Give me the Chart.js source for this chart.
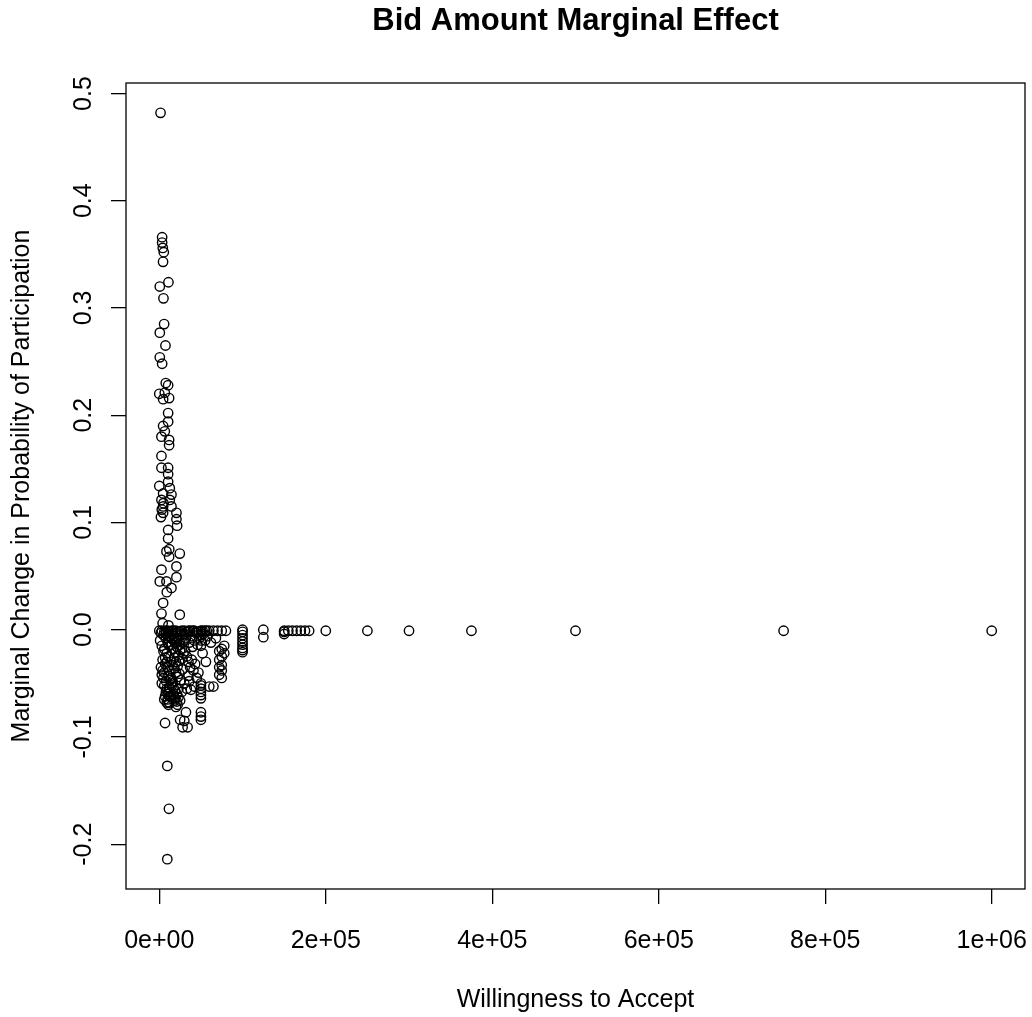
<!DOCTYPE html>
<html><head><meta charset="utf-8">
<script src="https://cdn.jsdelivr.net/npm/chart.js@4.4.1/dist/chart.umd.min.js"></script>
<style>html,body{margin:0;padding:0;background:#fff;}canvas{display:block;}</style>
</head><body>
<canvas id="c" width="1032" height="1017"></canvas>
<script>
const chartTitle = "Bid Amount Marginal Effect";
const xTitle = "Willingness to Accept";
const yTitle = "Marginal Change in Probability of Participation";
const xTicks = [0, 200000, 400000, 600000, 800000, 1000000];
const yTicks = [-0.2, -0.1, 0.0, 0.1, 0.2, 0.3, 0.4, 0.5];

// positive marginal effects
const posWta = [1500,3400,3400,4200,5400,4500,11000,600,5000,5800,600,7400,600,3400,7800,10600,0,6600,4600,11800,
  10600,10600,4600,6600,2600,11800,11800,2600,2600,10600,10600,10600,0,12600,4600,14600,2600,12600,4600,14600,
  4600,20600,20600,21400,10600,10600,8600,24600,11800,20600,2600,600,8600,14600,20600,4600,2600,24600,
  3000,5000,2000,12000,9000,4000,11000];
const posMfx = [0.482,0.366,0.361,0.356,0.352,0.343,0.324,0.320,0.309,0.285,0.277,0.265,0.254,0.248,0.230,0.228,0.220,0.221,0.215,0.216,
  0.202,0.194,0.190,0.185,0.180,0.177,0.172,0.162,0.151,0.151,0.145,0.138,0.134,0.132,0.127,0.126,0.121,0.121,0.115,0.115,
  0.109,0.109,0.103,0.097,0.093,0.085,0.073,0.071,0.068,0.059,0.056,0.045,0.045,0.039,0.049,0.025,0.015,0.014,
  0.112,0.118,0.105,0.075,0.035,0.006,0.004];

// effects near zero
const zeroWta = [0,3000,6000,10000,15000,20000,25000,30000,35000,40000,45000,50000,55000,60000,65000,70000,75000,80000,
  125000,125000,150000,150000,150000,155000,160000,165000,170000,175000,180000,200000,250000,300000,375000,500000,750000,1000000,
  8000,12000,17000,22000,27000,32000,37000,42000,47000,52000,57000];
const zeroMfx = [-0.001,-0.001,-0.002,-0.001,-0.001,-0.001,-0.002,-0.001,-0.001,-0.001,-0.002,-0.001,-0.001,-0.001,-0.001,-0.001,-0.001,-0.001,
  0.000,-0.007,-0.001,-0.002,-0.004,-0.001,-0.001,-0.001,-0.001,-0.001,-0.001,-0.001,-0.001,-0.001,-0.001,-0.001,-0.001,-0.001,
  -0.001,-0.002,-0.001,-0.002,-0.001,-0.002,-0.001,-0.001,-0.002,-0.001,-0.001];

// negative marginal effects
const negWta = [2000,5000,8000,10000,12000,6000,9000,11000,4000,7000,10000,12000,3000,5000,8000,6000,9000,11000,7000,10000,12000,6900,9600,11600,9600,
  14000,16000,18000,20000,22000,24000,26000,28000,15000,17000,19000,21000,23000,25000,27000,29000,14000,16000,18000,20000,22000,24000,26000,28000,
  15000,17000,19000,21000,23000,25000,27000,14000,18000,22000,20000,25000,28000,
  30000,32000,34000,36000,38000,40000,42000,44000,46000,48000,31000,33000,35000,37000,39000,41000,43000,45000,35000,47000,
  30000,33000,36000,38000,42000,32000,30000,34000,
  50000,50000,50000,50000,50000,50000,50000,50000,50000,50000,50000,50000,50000,
  53000,55000,58000,52000,56000,60000,65000,62000,68000,
  72000,72000,72000,72000,75000,75000,75000,75000,75000,78000,78000,
  100000,100000,100000,100000,100000,100000,100000,100000,100000,
  1000,3000,5000,7000,9000,11000,13000,15000,17000,19000,21000,23000,2000,4000,6000,8000,10000,12000,14000,16000,
  18000,20000,22000,24000,3000,6000,9000,12000,15000,18000,21000,24000,27000,30000,8000,10000,13000,16000,19000,11000];
const negMfx = [-0.003,-0.005,-0.008,-0.012,-0.015,-0.018,-0.022,-0.025,-0.028,-0.032,-0.035,-0.038,-0.042,-0.045,-0.048,-0.052,-0.055,-0.058,-0.062,-0.065,-0.068,-0.087,-0.127,-0.167,-0.214,
  -0.002,-0.004,-0.006,-0.003,-0.008,-0.010,-0.005,-0.012,-0.014,-0.018,-0.021,-0.016,-0.024,-0.019,-0.027,-0.022,-0.030,-0.033,-0.036,-0.040,-0.044,-0.041,-0.047,-0.037,
  -0.050,-0.054,-0.057,-0.060,-0.063,-0.066,-0.058,-0.062,-0.066,-0.070,-0.072,-0.084,-0.091,
  -0.004,-0.008,-0.002,-0.012,-0.006,-0.016,-0.010,-0.003,-0.014,-0.008,-0.020,-0.025,-0.030,-0.035,-0.028,-0.038,-0.032,-0.045,-0.043,-0.040,
  -0.050,-0.055,-0.048,-0.056,-0.053,-0.077,-0.085,-0.091,
  -0.002,-0.005,-0.010,-0.015,-0.050,-0.052,-0.055,-0.058,-0.061,-0.064,-0.077,-0.081,-0.084,
  -0.004,-0.010,-0.006,-0.022,-0.030,-0.053,-0.053,-0.012,-0.008,
  -0.020,-0.028,-0.035,-0.042,-0.018,-0.025,-0.033,-0.038,-0.045,-0.015,-0.022,
  0.000,-0.002,-0.005,-0.008,-0.011,-0.014,-0.017,-0.019,-0.021,
  -0.010,-0.015,-0.020,-0.026,-0.030,-0.043,-0.047,-0.052,-0.061,-0.064,-0.067,-0.055,-0.035,-0.038,-0.040,-0.058,-0.060,-0.062,-0.045,-0.048,
  -0.026,-0.030,-0.034,-0.029,-0.050,-0.065,-0.068,-0.054,-0.008,-0.010,-0.012,-0.014,-0.018,-0.010,-0.003,-0.006,-0.006,-0.009,-0.012,-0.070];

const allWta = posWta.concat(zeroWta, negWta);
const allMfx = posMfx.concat(zeroMfx, negMfx);
const points = allWta.map((x, i) => ({x: x, y: allMfx[i]}));

const family = "'Liberation Sans', Arial, sans-serif";
const font = {family: family, size: 25};

function fmtE(v) {
  if (v === 0) return "0e+00";
  const e = Math.floor(Math.log10(Math.abs(v)) + 1e-9);
  const m = Math.round(v / Math.pow(10, e));
  return m + "e" + (e < 0 ? "-" : "+") + String(Math.abs(e)).padStart(2, "0");
}
function fmtY(v) {
  return (Math.abs(v) < 1e-9 ? 0 : v).toFixed(1);
}

const frame = {
  id: 'frame',
  afterDatasetsDraw(chart) {
    const {ctx, chartArea: a} = chart;
    ctx.save();
    ctx.strokeStyle = '#000';
    ctx.lineWidth = 1.3;
    ctx.strokeRect(a.left, a.top, a.right - a.left, a.bottom - a.top);
    ctx.restore();
  }
};

new Chart(document.getElementById('c').getContext('2d'), {
  type: 'scatter',
  data: {datasets: [{
    data: points,
    xAxisID: 'x',
    yAxisID: 'y',
    pointStyle: 'circle',
    pointRadius: 4.7,
    pointHoverRadius: 4.7,
    pointBorderWidth: 1.4,
    borderColor: '#000',
    backgroundColor: 'rgba(0,0,0,0)'
  }]},
  options: {
    responsive: false,
    animation: false,
    devicePixelRatio: 1,
    layout: {padding: {left: 0, right: 7, top: 0, bottom: 0}},
    plugins: {
      legend: {display: false},
      tooltip: {enabled: false},
      title: {display: false}
    },
    scales: {
      top: {
        type: 'linear', position: 'top', min: 0, max: 1,
        afterFit: s => { s.height = 83; s.paddingLeft = 0; s.paddingRight = 0; },
        grid: {display: false},
        border: {display: false},
        ticks: {display: false},
        title: {display: true, text: chartTitle, color: '#000',
          font: {family: family, size: 31, weight: 'bold'}, padding: {top: 3, bottom: 0}}
      },
      x: {
        type: 'linear', position: 'bottom', min: -40000, max: 1040000,
        afterBuildTicks: s => { s.ticks = xTicks.map(v => ({value: v})); },
        afterFit: s => { s.height = 128; s.paddingLeft = 0; s.paddingRight = 0; },
        grid: {display: true, drawOnChartArea: false, drawTicks: true, tickLength: 15, color: '#000', lineWidth: 1.3},
        border: {display: false},
        ticks: {font: font, color: '#000', padding: 22, minRotation: 0, maxRotation: 0, autoSkip: false, callback: fmtE},
        title: {display: true, text: xTitle, color: '#000', font: font, padding: {top: 0, bottom: 2}}
      },
      y: {
        type: 'linear', position: 'left', min: -0.2418, max: 0.5098,
        afterBuildTicks: s => { s.ticks = yTicks.map(v => ({value: v})); },
        afterFit: s => { s.width = 126; s.paddingTop = 0; s.paddingBottom = 0; },
        grid: {display: true, drawOnChartArea: false, drawTicks: true, tickLength: 15, color: '#000', lineWidth: 1.3},
        border: {display: false},
        ticks: {font: font, color: '#000', padding: 5, minRotation: 90, maxRotation: 90, crossAlign: 'center', autoSkip: false, callback: fmtY},
        title: {display: true, text: yTitle, color: '#000', font: font, padding: {top: 7, bottom: 0}}
      }
    }
  },
  plugins: [frame]
});
</script>
</body></html>
